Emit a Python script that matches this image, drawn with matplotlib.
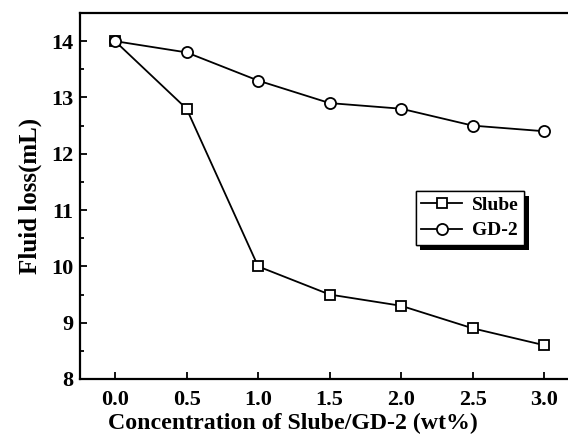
import matplotlib.pyplot as plt
from matplotlib.ticker import MultipleLocator
import matplotlib.patheffects as pe

plt.rcParams['font.family'] = 'Liberation Serif'
plt.rcParams['font.weight'] = 'bold'

conc = [0.0, 0.5, 1.0, 1.5, 2.0, 2.5, 3.0]
slube = [14.0, 12.8, 10.0, 9.5, 9.3, 8.9, 8.6]
gd2 = [14.0, 13.8, 13.3, 12.9, 12.8, 12.5, 12.4]

fig = plt.figure(figsize=(5.68, 4.37), dpi=100)
ax = fig.add_axes([80/568, 58/437, 500/568, 366/437])

ax.plot(conc, slube, 'k-', marker='s', mfc='white', mec='k', ms=7, mew=1.3, lw=1.3, label='Slube')
ax.plot(conc, gd2, 'k-', marker='o', mfc='white', mec='k', ms=8, mew=1.3, lw=1.3, label='GD-2')

ax.set_xlim(-0.245, 3.25)
ax.set_ylim(8, 14.5)
ax.set_xticks(conc)
ax.set_xticklabels(['%.1f' % c for c in conc])
ax.yaxis.set_major_locator(MultipleLocator(1))
ax.yaxis.set_minor_locator(MultipleLocator(0.5))
ax.tick_params(direction='in', which='both', labelsize=16, width=1.3)
ax.tick_params(which='major', length=5, pad=5)
ax.tick_params(axis='x', which='major', pad=8)
ax.tick_params(which='minor', length=3)
for s in ax.spines.values():
    s.set_linewidth(1.6)
for lab in ax.get_xticklabels() + ax.get_yticklabels():
    lab.set_fontweight('bold')

ax.set_xlabel('Concentration of Slube/GD-2 (wt%)', fontsize=17.2, fontweight='bold')
ax.xaxis.set_label_coords((293 - 80) / 500, -0.093)
ax.set_ylabel('Fluid loss(mL)', fontsize=18, fontweight='bold', labelpad=6)

leg = ax.legend(loc='center', bbox_to_anchor=(470/568, 1-218/437), bbox_transform=fig.transFigure,
                fontsize=14, fancybox=False, edgecolor='k', framealpha=1,
                handlelength=2.1, handletextpad=0.5, borderpad=0.3, labelspacing=0.4)
leg.get_frame().set_linewidth(1.0)
leg.get_frame().set_path_effects([pe.withSimplePatchShadow(offset=(3.5, -3.5), shadow_rgbFace='k', alpha=1), pe.Normal()])

plt.savefig('out.png', dpi=100)
